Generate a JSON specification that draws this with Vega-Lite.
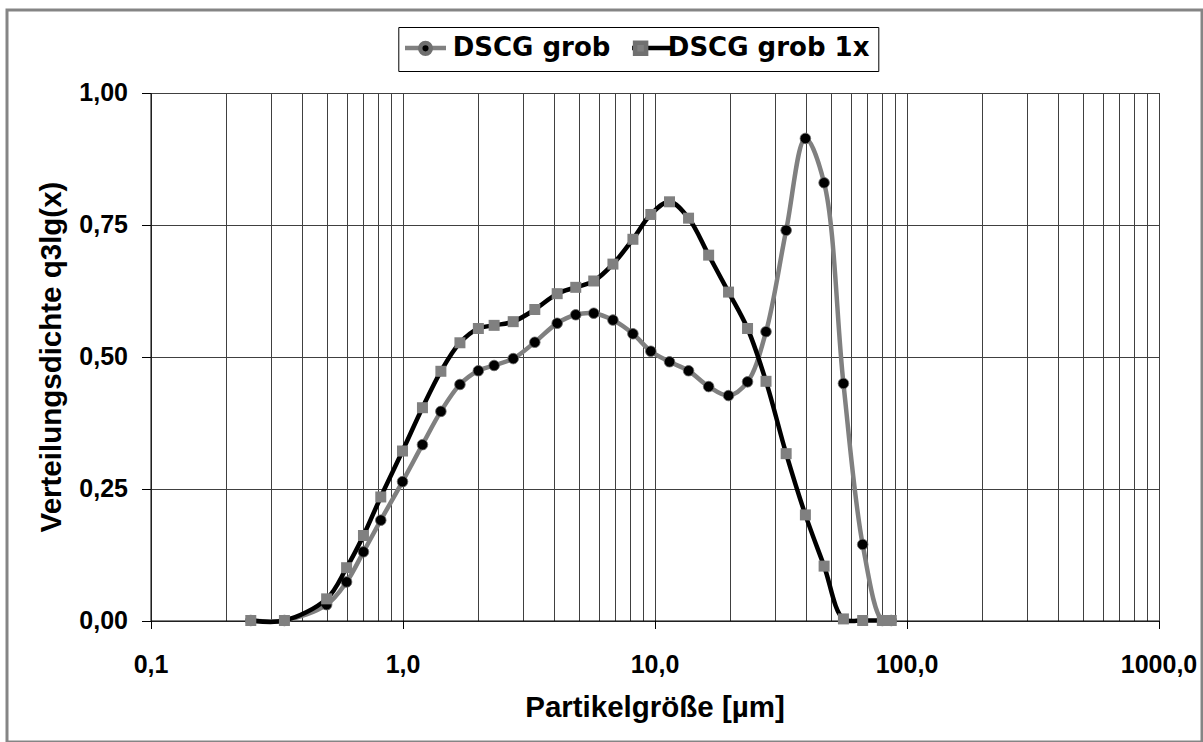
{
  "$schema": "https://vega.github.io/schema/vega-lite/v6.json",
  "width": 1195,
  "height": 732,
  "autosize": {"type": "none"},
  "padding": {"left": 7, "top": 10, "right": 1, "bottom": 0},
  "background": "white",
  "view": {"stroke": "#858585", "strokeWidth": 3, "fill": "white"},
  "data": {
    "values": [
      {"d": 0.25, "DSCG grob": 0, "DSCG grob 1x": 0},
      {"d": 0.34, "DSCG grob": 0, "DSCG grob 1x": 0},
      {"d": 0.5, "DSCG grob": 0.03, "DSCG grob 1x": 0.041},
      {"d": 0.6, "DSCG grob": 0.073, "DSCG grob 1x": 0.1},
      {"d": 0.7, "DSCG grob": 0.13, "DSCG grob 1x": 0.161},
      {"d": 0.82, "DSCG grob": 0.19, "DSCG grob 1x": 0.234},
      {"d": 1.0, "DSCG grob": 0.263, "DSCG grob 1x": 0.321},
      {"d": 1.2, "DSCG grob": 0.333, "DSCG grob 1x": 0.403},
      {"d": 1.42, "DSCG grob": 0.396, "DSCG grob 1x": 0.472},
      {"d": 1.69, "DSCG grob": 0.447, "DSCG grob 1x": 0.526},
      {"d": 2.0, "DSCG grob": 0.473, "DSCG grob 1x": 0.553},
      {"d": 2.31, "DSCG grob": 0.483, "DSCG grob 1x": 0.559},
      {"d": 2.75, "DSCG grob": 0.496, "DSCG grob 1x": 0.566},
      {"d": 3.35, "DSCG grob": 0.527, "DSCG grob 1x": 0.589},
      {"d": 4.11, "DSCG grob": 0.563, "DSCG grob 1x": 0.619},
      {"d": 4.87, "DSCG grob": 0.579, "DSCG grob 1x": 0.631},
      {"d": 5.74, "DSCG grob": 0.582, "DSCG grob 1x": 0.643},
      {"d": 6.84, "DSCG grob": 0.569, "DSCG grob 1x": 0.675},
      {"d": 8.21, "DSCG grob": 0.543, "DSCG grob 1x": 0.722},
      {"d": 9.67, "DSCG grob": 0.51, "DSCG grob 1x": 0.769},
      {"d": 11.47, "DSCG grob": 0.49, "DSCG grob 1x": 0.793},
      {"d": 13.65, "DSCG grob": 0.473, "DSCG grob 1x": 0.762},
      {"d": 16.4, "DSCG grob": 0.443, "DSCG grob 1x": 0.692},
      {"d": 19.67, "DSCG grob": 0.426, "DSCG grob 1x": 0.622},
      {"d": 23.4, "DSCG grob": 0.452, "DSCG grob 1x": 0.553},
      {"d": 27.7, "DSCG grob": 0.547, "DSCG grob 1x": 0.453},
      {"d": 33.3, "DSCG grob": 0.739, "DSCG grob 1x": 0.316},
      {"d": 39.7, "DSCG grob": 0.913, "DSCG grob 1x": 0.2},
      {"d": 47.1, "DSCG grob": 0.829, "DSCG grob 1x": 0.103},
      {"d": 56.2, "DSCG grob": 0.449, "DSCG grob 1x": 0.003},
      {"d": 67.0, "DSCG grob": 0.144, "DSCG grob 1x": 0},
      {"d": 80.2, "DSCG grob": 0, "DSCG grob 1x": 0},
      {"d": 87.0, "DSCG grob": 0, "DSCG grob 1x": 0}
    ]
  },
  "transform": [{"fold": ["DSCG grob", "DSCG grob 1x"], "as": ["series", "q"]}],
  "encoding": {
    "y": {
      "field": "q",
      "type": "quantitative",
      "scale": {"domain": [0, 1], "range": [610.5, 82.5], "nice": false, "zero": true},
      "axis": {
        "values": [0, 0.25, 0.5, 0.75, 1],
        "title": "Verteilungsdichte q3lg(x)",
        "offset": -143.5,
        "grid": true,
        "gridColor": "#404040",
        "gridWidth": 1,
        "domainColor": "black",
        "domainWidth": 1,
        "tickColor": "black",
        "tickSize": 9,
        "tickWidth": 1,
        "labelExpr": "replace(format(datum.value, '.2f'), '.', ',')",
        "labelFont": "Liberation Sans",
        "labelFontSize": 25,
        "labelFontWeight": "bold",
        "labelColor": "black",
        "labelPadding": 14,
        "labelOverlap": false,
        "titleFont": "Liberation Sans",
        "titleFontSize": 29.5,
        "titleFontWeight": "bold",
        "titleColor": "black",
        "titlePadding": 12.5
      }
    }
  },
  "resolve": {"axis": {"x": "independent"}},
  "layer": [
    {
      "transform": [{"filter": "datum.series === 'DSCG grob'"}],
      "mark": {"type": "line", "interpolate": "catmull-rom", "strokeWidth": 4.5},
      "encoding": {
        "x": {
          "field": "d",
          "type": "quantitative",
          "scale": {"type": "log", "domain": [0.1, 1000], "range": [143.5, 1151.5], "nice": false},
          "axis": {
            "orient": "bottom",
            "values": [0.1, 1, 10, 100, 1000],
            "title": "Partikelgröße [µm]",
            "offset": -121.5,
            "grid": false,
            "domainColor": "black",
            "domainWidth": 1,
            "tickColor": "black",
            "tickSize": 8,
            "tickWidth": 1,
            "labelExpr": "replace(format(datum.value, '.1f'), '.', ',')",
            "labelFont": "Liberation Sans",
            "labelFontSize": 25,
            "labelFontWeight": "bold",
            "labelColor": "black",
            "labelPadding": 24,
            "labelFlush": false,
            "labelOverlap": false,
            "titleFont": "Liberation Sans",
            "titleFontSize": 29.5,
            "titleFontWeight": "bold",
            "titleColor": "black",
            "titlePadding": 16
          }
        },
        "stroke": {
          "field": "series", "type": "nominal",
          "scale": {"range": ["#808080", "#000000"]},
          "legend": {
            "orient": "none", "legendX": 391.3, "legendY": 17, "direction": "horizontal", "title": null,
            "padding": 8, "symbolType": "M-2.05,0H2.05", "symbolSize": 400, "symbolOffset": 6.2, "symbolStrokeWidth": 4.5,
            "labelFont": "DejaVu Sans", "labelFontSize": 26, "labelFontWeight": "bold", "labelOffset": 14.2, "labelExpr": "''", "labelLimit": 0,
            "columnPadding": 167.1, "zindex": 0
          }
        }
      }
    },
    {
      "transform": [{"filter": "datum.series === 'DSCG grob'"}],
      "mark": {"type": "point", "filled": true, "size": 400, "opacity": 1, "stroke": "#707070", "strokeWidth": 0.8},
      "encoding": {
        "x": {
          "field": "d",
          "type": "quantitative",
          "axis": {
            "orient": "top",
            "values": [0.1, 0.2, 0.3, 0.4, 0.5, 0.6, 0.7, 0.8, 0.9, 1, 2, 3, 4, 5, 6, 7, 8, 9, 10, 20, 30, 40, 50, 60, 70, 80, 90, 100, 200, 300, 400, 500, 600, 700, 800, 900, 1000],
            "grid": true,
            "gridColor": "#404040",
            "gridWidth": 1,
            "domain": false,
            "ticks": false,
            "labels": false,
            "title": null
          }
        },
        "fill": {
          "field": "series", "type": "nominal",
          "scale": {"domain": ["DSCG grob", "DSCG grob 1x"], "range": ["#000000", "#808080"]},
          "legend": {
            "orient": "none", "legendX": 391.3, "legendY": 17, "direction": "horizontal", "title": null,
            "padding": 8, "symbolSize": 400, "symbolOffset": 6.2, "symbolStrokeWidth": 4.5, "symbolStrokeColor": "transparent",
            "labelFont": "DejaVu Sans", "labelFontSize": 26, "labelFontWeight": "bold", "labelColor": "black", "labelOffset": 14.2, "labelLimit": 0,
            "columnPadding": 10.1, "strokeColor": "black", "zindex": 1
          }
        },
        "shape": {
          "field": "series", "type": "nominal",
          "scale": {"domain": ["DSCG grob", "DSCG grob 1x"], "range": ["M0.53,0A0.53,0.53,0,1,1,-0.53,0A0.53,0.53,0,1,1,0.53,0Z", "M-0.55,-0.55H0.55V0.55H-0.55Z"]}
        }
      }
    },
    {
      "transform": [{"filter": "datum.series === 'DSCG grob 1x'"}],
      "mark": {"type": "line", "interpolate": "catmull-rom", "strokeWidth": 4.5},
      "encoding": {
        "x": {"field": "d", "type": "quantitative", "axis": null},
        "stroke": {"field": "series", "type": "nominal"}
      }
    },
    {
      "transform": [{"filter": "datum.series === 'DSCG grob 1x'"}],
      "mark": {"type": "point", "filled": true, "size": 400, "opacity": 1, "strokeWidth": 0},
      "encoding": {
        "x": {"field": "d", "type": "quantitative", "axis": null},
        "fill": {"field": "series", "type": "nominal"},
        "shape": {"field": "series", "type": "nominal"}
      }
    }
  ]
}
